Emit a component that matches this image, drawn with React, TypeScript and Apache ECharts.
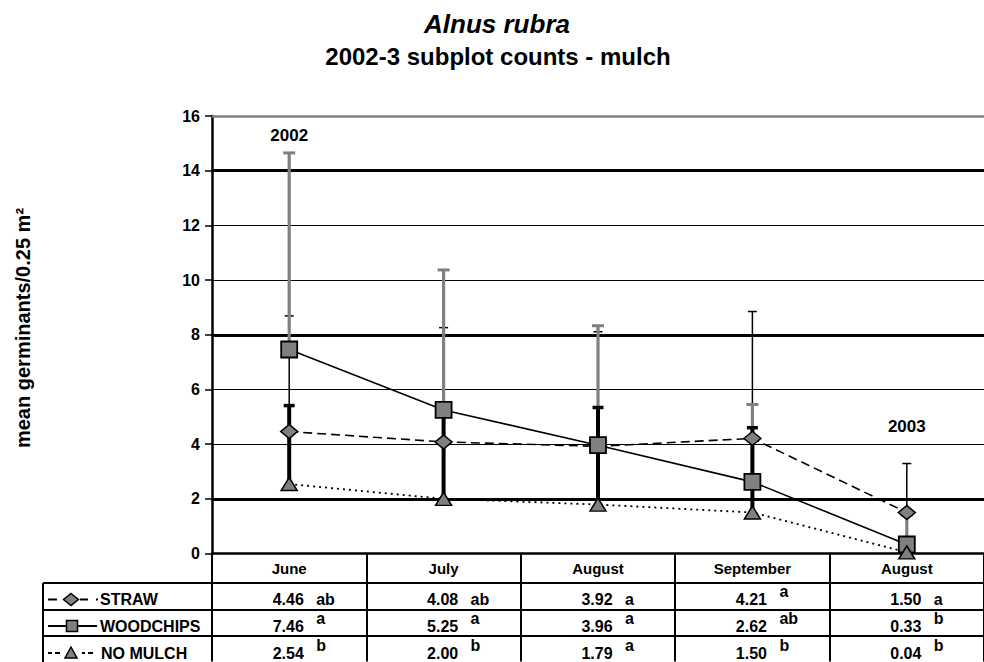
import React, { useEffect, useRef } from "react";
import * as echarts from "echarts";

// ---------- data ----------
const categories = ["June", "July", "August", "September", "August"];
const seriesNames = ["STRAW", "WOODCHIPS", "NO MULCH"];

const strawMeans = [4.46, 4.08, 3.92, 4.21, 1.5];
const woodchipsMeans = [7.46, 5.25, 3.96, 2.62, 0.33];
const noMulchMeans = [2.54, 2.0, 1.79, 1.5, 0.04];

const strawUpper = [8.69, 8.26, 8.11, 8.85, 3.29];
const woodchipsUpper = [14.65, 10.37, 8.33, 5.45, 1.4];
const noMulchUpper = [5.41, 5.2, 5.34, 4.6, 0.12];

const strawLetters = ["ab", "ab", "a", "a", "a"];
const woodchipsLetters = ["a", "a", "a", "ab", "b"];
const noMulchLetters = ["b", "b", "a", "b", "b"];

const strawLetterRaised = [false, false, false, true, false];
const woodchipsLetterRaised = [true, true, true, true, true];
const noMulchLetterRaised = [true, true, true, true, true];

const yMin = 0;
const yMax = 16;
const yInterval = 2;
const thickGridValues = [2, 8, 14];
const topBorderValue = 16;

const yearLabels = ["2002", "2003"];
const yearLabelCategory = [0, 4];
const yearLabelValue = [15.27, 4.66];

const titleText = "Alnus rubra";
const subtitleText = "2002-3 subplot counts - mulch";
const yAxisName = "mean germinants/0.25 m²";

// ---------- styles ----------
const FONT = '"Liberation Sans", Arial, Helvetica, sans-serif';
const GRAY = "#808080";

const errorBarSeries = (
  name: string,
  means: number[],
  uppers: number[],
  stroke: string,
  lineWidth: number,
  capWidth: number,
  capLineWidth: number,
  z: number
) => ({
  type: "custom",
  name: name + " error",
  z,
  silent: true,
  data: means.map((m, i) => [i, m, uppers[i]]),
  encode: { x: 0, y: [1, 2] },
  renderItem: (_params: any, api: any) => {
    const x = api.value(0);
    const lo = api.value(1);
    const hi = api.value(2);
    const p0 = api.coord([x, lo]);
    const p1 = api.coord([x, hi]);
    return {
      type: "group",
      children: [
        {
          type: "line",
          shape: { x1: p0[0], y1: p0[1], x2: p1[0], y2: p1[1] },
          style: { stroke, lineWidth },
        },
        {
          type: "line",
          shape: {
            x1: p1[0] - capWidth / 2,
            y1: p1[1],
            x2: p1[0] + capWidth / 2,
            y2: p1[1],
          },
          style: { stroke, lineWidth: capLineWidth },
        },
      ],
    };
  },
});

export default function App() {
  const ref = useRef<HTMLDivElement>(null);

  useEffect(() => {
    if (!ref.current) return;
    const chart = echarts.init(ref.current, null, { renderer: "svg" });

    const option: any = {
      animation: false,
      backgroundColor: "#ffffff",
      textStyle: { fontFamily: FONT },
      grid: { left: 212, top: 116, width: 782.5, height: 437.5, containLabel: false },
      xAxis: {
        type: "category",
        data: categories,
        boundaryGap: true,
        axisLine: { show: true, lineStyle: { color: "#000", width: 2.5 } },
        axisTick: { show: true, interval: 0, length: 108, lineStyle: { color: "#000", width: 2 } },
        axisLabel: {
          interval: 0,
          margin: 7,
          color: "#000",
          fontWeight: "bold",
          fontSize: 15,
          fontFamily: FONT,
        },
        splitLine: { show: false },
      },
      yAxis: {
        type: "value",
        min: yMin,
        max: yMax,
        interval: yInterval,
        axisLine: { show: true, lineStyle: { color: "#000", width: 2.5 } },
        axisTick: { show: true, length: 7, lineStyle: { color: "#000", width: 1.5 } },
        axisLabel: {
          margin: 12,
          color: "#000",
          fontWeight: "bold",
          fontSize: 16,
          fontFamily: FONT,
        },
        splitLine: { show: true, lineStyle: { color: "#000", width: 1 } },
      },
      series: [
        {
          type: "line",
          name: "grid marks",
          data: [],
          silent: true,
          z: 1,
          markLine: {
            silent: true,
            z: 1,
            symbol: ["none", "none"],
            label: { show: false },
            emphasis: { disabled: true },
            data: [
              ...thickGridValues.map((v) => ({
                yAxis: v,
                lineStyle: { color: "#000", width: 3, type: "solid" },
              })),
              {
                yAxis: topBorderValue,
                lineStyle: { color: GRAY, width: 2.5, type: "solid" },
              },
            ],
          },
        },
        errorBarSeries(seriesNames[0], strawMeans, strawUpper, "#000", 1.5, 9, 1.5, 2),
        errorBarSeries(seriesNames[1], woodchipsMeans, woodchipsUpper, GRAY, 3.2, 12, 3, 2),
        errorBarSeries(seriesNames[2], noMulchMeans, noMulchUpper, "#000", 4, 11, 3.5, 2),
        {
          type: "line",
          name: seriesNames[0],
          data: strawMeans,
          z: 3,
          symbol: "diamond",
          symbolSize: [17, 14],
          lineStyle: { color: "#000", width: 1.6, type: [9, 5] },
          itemStyle: { color: GRAY, borderColor: "#000", borderWidth: 1.5 },
        },
        {
          type: "line",
          name: seriesNames[1],
          data: woodchipsMeans,
          z: 3,
          symbol: "rect",
          symbolSize: 16,
          lineStyle: { color: "#000", width: 1.6, type: "solid" },
          itemStyle: { color: GRAY, borderColor: "#000", borderWidth: 1.8 },
        },
        {
          type: "line",
          name: seriesNames[2],
          data: noMulchMeans,
          z: 3,
          symbol: "triangle",
          symbolSize: [16, 13],
          lineStyle: { color: "#000", width: 1.8, type: [2, 4] },
          itemStyle: { color: GRAY, borderColor: "#000", borderWidth: 1.5 },
        },
      ],
    };

    chart.setOption(option);

    // ---- graphics built from the chart's own scales ----
    const colX = categories.map((_, i) => chart.convertToPixel({ xAxisIndex: 0 }, i) as number);
    const g: any[] = [];
    const txt = (
      text: string,
      x: number,
      y: number,
      size: number,
      align: string,
      extra: any = {}
    ) => ({
      type: "text",
      x,
      y,
      silent: true,
      ...extra,
      style: {
        text,
        fill: "#000",
        fontFamily: FONT,
        fontWeight: "bold",
        fontSize: size,
        fontStyle: extra.fontStyle || "normal",
        align,
        verticalAlign: "middle",
      },
    });

    // titles
    g.push(txt(titleText, 497, 24, 26, "center", { fontStyle: "italic" }));
    g.push(txt(subtitleText, 498, 56, 24, "center"));
    // y axis name
    g.push(txt(yAxisName, 23, 328, 20, "center", { rotation: Math.PI / 2 }));

    // year annotations
    yearLabels.forEach((label, i) => {
      const p = chart.convertToPixel({ gridIndex: 0 }, [yearLabelCategory[i], yearLabelValue[i]]) as number[];
      g.push(txt(label, p[0], p[1], 17, "center"));
    });

    // data table
    const tableLeft = 43;
    const tableRight = 984;
    const rowLines = [583, 610, 636];
    const rowCenters = [599.5, 626, 653];
    rowLines.forEach((y) =>
      g.push({
        type: "line",
        silent: true,
        shape: { x1: tableLeft, y1: y, x2: tableRight, y2: y },
        style: { stroke: "#000", lineWidth: 2 },
      })
    );
    g.push({
      type: "line",
      silent: true,
      shape: { x1: tableLeft, y1: rowLines[0], x2: tableLeft, y2: 662 },
      style: { stroke: "#000", lineWidth: 2 },
    });

    const means = [strawMeans, woodchipsMeans, noMulchMeans];
    const letters = [strawLetters, woodchipsLetters, noMulchLetters];
    const raised = [strawLetterRaised, woodchipsLetterRaised, noMulchLetterRaised];
    means.forEach((arr, r) => {
      arr.forEach((v, c) => {
        g.push(txt(v.toFixed(2), colX[c] - 1, rowCenters[r], 16, "center"));
        g.push(txt(letters[r][c], colX[c] + 27, rowCenters[r] - (raised[r][c] ? 8 : 0), 16, "left"));
      });
    });

    // legend key column
    const textX = 100;
    seriesNames.forEach((name, r) =>
      g.push(txt(name, textX + (r === 2 ? 1 : 0), rowCenters[r], 16, "left"))
    );
    const seg = (x1: number, x2: number, y: number, w = 2) => ({
      type: "line",
      silent: true,
      shape: { x1, y1: y, x2, y2: y },
      style: { stroke: "#000", lineWidth: w },
    });
    const ky0 = rowCenters[0];
    g.push(seg(48, 57, ky0), seg(80, 88, ky0), seg(96, 98, ky0));
    g.push({
      type: "polygon",
      silent: true,
      shape: { points: [[71, ky0 - 6], [78.5, ky0], [71, ky0 + 6], [63.5, ky0]] },
      style: { fill: GRAY, stroke: "#000", lineWidth: 1.5 },
    });
    const ky1 = rowCenters[1];
    g.push(seg(48, 97, ky1));
    g.push({
      type: "rect",
      silent: true,
      shape: { x: 66.5, y: ky1 - 5.5, width: 11, height: 11 },
      style: { fill: GRAY, stroke: "#000", lineWidth: 1.5 },
    });
    const ky2 = rowCenters[2];
    g.push(seg(48, 52, ky2), seg(55, 60, ky2), seg(82, 85, ky2), seg(88, 93, ky2));
    g.push({
      type: "polygon",
      silent: true,
      shape: { points: [[71, ky2 - 6], [77, ky2 + 5], [65, ky2 + 5]] },
      style: { fill: GRAY, stroke: "#000", lineWidth: 1.5 },
    });

    chart.setOption({ graphic: { elements: g } });

    return () => chart.dispose();
  }, []);

  return (
    <div
      ref={ref}
      style={{ position: "absolute", left: 0, top: 0, width: 984, height: 662, background: "#fff" }}
    />
  );
}
